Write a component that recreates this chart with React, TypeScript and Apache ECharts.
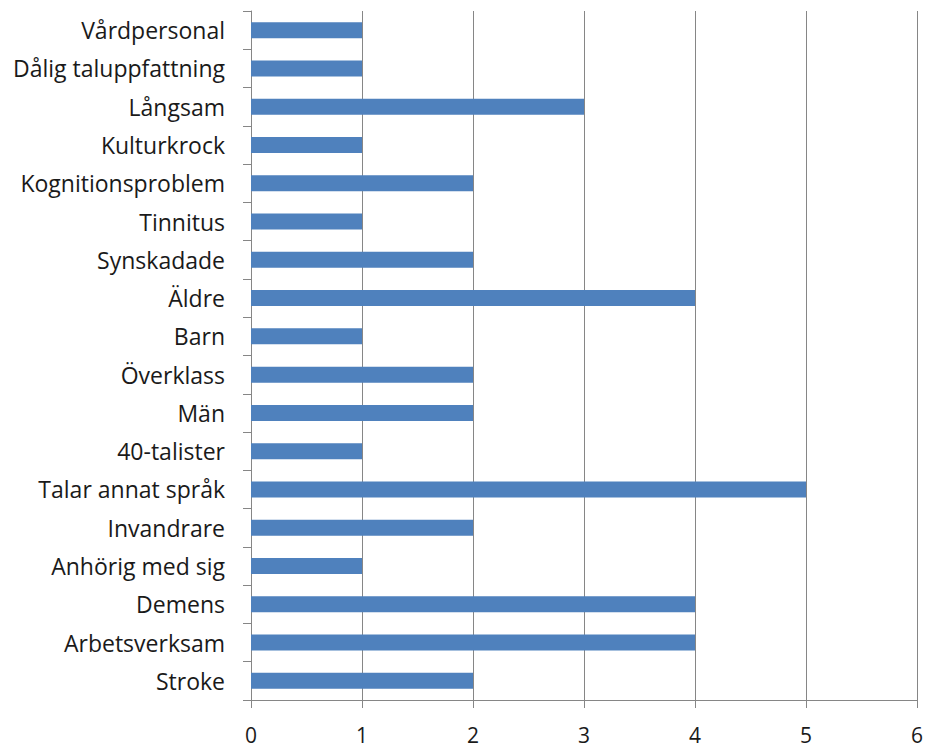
import React, { useEffect, useRef } from "react";
import * as echarts from "echarts";

const categories = [
  "Stroke",
  "Arbetsverksam",
  "Demens",
  "Anhörig med sig",
  "Invandrare",
  "Talar annat språk",
  "40-talister",
  "Män",
  "Överklass",
  "Barn",
  "Äldre",
  "Synskadade",
  "Tinnitus",
  "Kognitionsproblem",
  "Kulturkrock",
  "Långsam",
  "Dålig taluppfattning",
  "Vårdpersonal",
];
const values = [2, 4, 4, 1, 2, 5, 1, 2, 2, 1, 4, 2, 1, 2, 1, 3, 1, 1];

export default function App() {
  const ref = useRef<HTMLDivElement>(null);
  useEffect(() => {
    if (!ref.current) return;
    const chart = echarts.init(ref.current, null, { renderer: "svg" });
    const font = "'Open Sans', 'Liberation Sans', sans-serif";
    chart.setOption({
      animation: false,
      backgroundColor: "#ffffff",
      grid: { left: 251, right: 10, top: 11, bottom: 47, containLabel: false },
      xAxis: {
        type: "value",
        min: 0,
        max: 6,
        interval: 1,
        axisLine: { show: true, lineStyle: { color: "#868686", width: 1 } },
        axisTick: { show: true, length: 8, lineStyle: { color: "#868686" } },
        splitLine: { show: true, lineStyle: { color: "#868686", width: 1 } },
        axisLabel: { color: "#1a1a1a", fontSize: 21, fontFamily: font, margin: 24 },
      },
      yAxis: {
        type: "category",
        data: categories,
        axisLine: { show: true, lineStyle: { color: "#868686", width: 1 } },
        axisTick: { show: true, length: 8, lineStyle: { color: "#868686" } },
        axisLabel: { color: "#1a1a1a", fontSize: 23, fontFamily: font, margin: 26 },
      },
      series: [
        {
          type: "bar",
          data: values,
          barWidth: 16,
          itemStyle: { color: "#4f81bd" },
        },
      ],
    });
    return () => chart.dispose();
  }, []);
  return (
    <div
      ref={ref}
      style={{ position: "fixed", left: 0, top: 0, width: 927, height: 747, background: "#fff" }}
    />
  );
}
